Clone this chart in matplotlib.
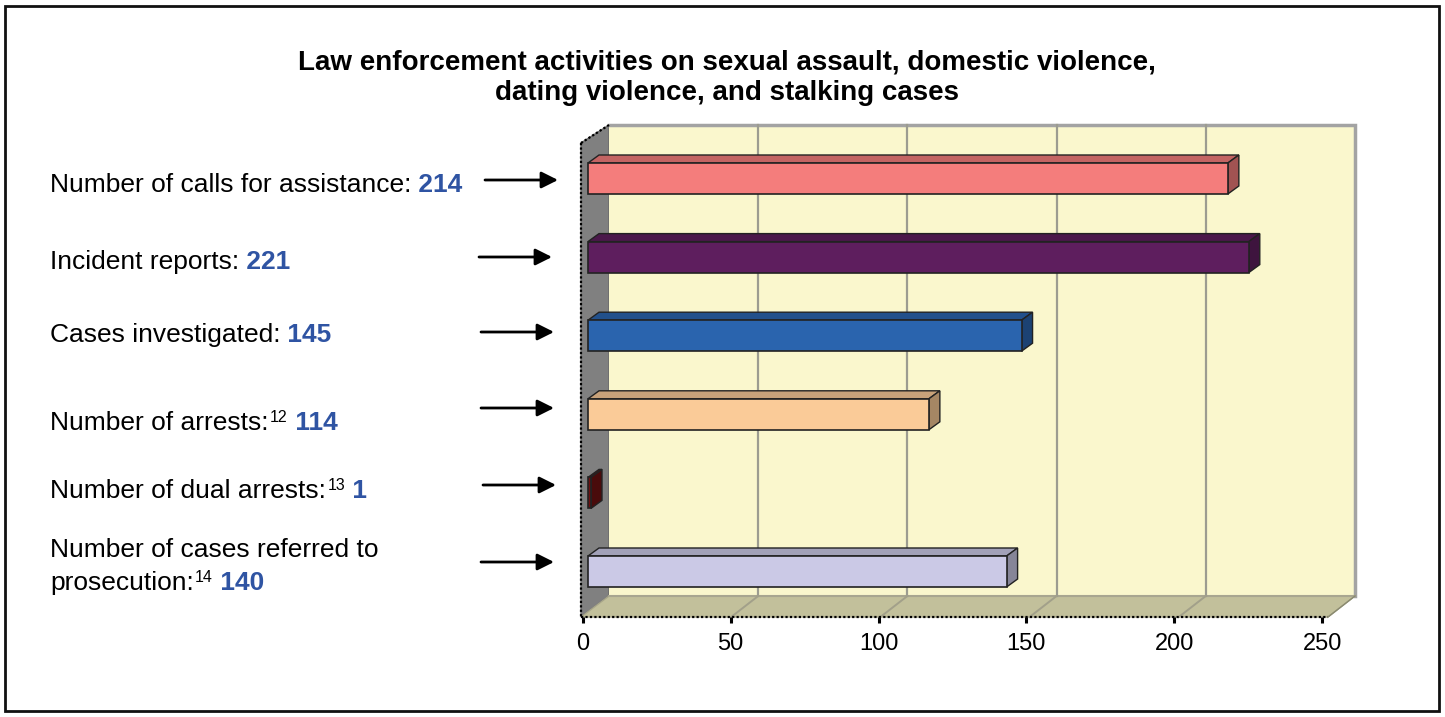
import matplotlib
matplotlib.use("Agg")
import matplotlib.pyplot as plt
from matplotlib.patches import Polygon, Rectangle
import numpy as np

# ---------------- data ----------------
categories = ["Number of calls for assistance", "Incident reports", "Cases investigated",
              "Number of arrests", "Number of dual arrests",
              "Number of cases referred to prosecution"]
values = [214, 221, 145, 114, 1, 140]
footnotes = ["", "", "", "12", "13", "14"]
ticks = [0, 50, 100, 150, 200, 250]
title_lines = ["Law enforcement activities on sexual assault, domestic violence,",
               "dating violence, and stalking cases"]

# ---------------- style / layout ----------------
face_colors = ["#F47D7C", "#5E1E5E", "#2A64AE", "#FACB98", "#6E1010", "#CBC9E6"]
num_color = "#2F54A3"
W, H = 1445, 717
plt.rcParams["font.family"] = ["Liberation Sans", "DejaVu Sans"]

fig = plt.figure(figsize=(W / 100, H / 100), dpi=100)
ax = fig.add_axes([0, 0, 1, 1])
ax.axis("off")

# bar plane: value 0 at px 588, 2.99 px per unit; rows every 78.6 px starting 178.5
X0, SX = 588.0, 2.99
Y0, SY = 178.5, 78.6
ax.set_xlim(-X0 / SX, (W - X0) / SX)
ax.set_ylim((H - Y0) / SY, -Y0 / SY)


def X(px):
    return (px - X0) / SX


def Y(py):
    return (py - Y0) / SY


def DX(px):
    return px / SX


def DY(py):
    return py / SY


def back_px(v):
    return 609 + v * 2.984


def front_px(v):
    return 582.7 + v * 2.958


WALL_TOP, FLOOR_BACK, FLOOR_FRONT = 125, 596, 617
DEPTH_X, DEPTH_Y = 27, 21

# left wall
ax.add_patch(Polygon([(X(581), Y(143)), (X(609), Y(WALL_TOP)), (X(609), Y(FLOOR_BACK)),
                      (X(581), Y(FLOOR_FRONT))], closed=True, facecolor="#808080",
                     edgecolor="#6a6a6a", lw=1, zorder=1))
# back wall
ax.add_patch(Polygon([(X(609), Y(WALL_TOP)), (X(back_px(250)), Y(WALL_TOP)),
                      (X(back_px(250)), Y(FLOOR_BACK)), (X(609), Y(FLOOR_BACK))],
                     closed=True, facecolor="#FAF7CD", edgecolor="none", zorder=1))
ax.plot([X(609), X(back_px(250)), X(back_px(250))],
        [Y(WALL_TOP), Y(WALL_TOP), Y(FLOOR_BACK)], color="#a3a3a3", lw=2.5, zorder=2,
        solid_joinstyle="miter")
# floor
ax.add_patch(Polygon([(X(581), Y(FLOOR_FRONT)), (X(609), Y(FLOOR_BACK)),
                      (X(back_px(250)), Y(FLOOR_BACK)),
                      (X(back_px(250) - DEPTH_X), Y(FLOOR_FRONT))],
                     closed=True, facecolor="#C2C09B", edgecolor="#a8a68a", lw=1, zorder=1))
ax.plot([X(609), X(back_px(250))], [Y(FLOOR_BACK), Y(FLOOR_BACK)], color="#a8a690",
        lw=1.5, zorder=2)

# gridlines on back wall + floor diagonals
for t in ticks[1:-1]:
    bx = back_px(t)
    ax.plot([X(bx), X(bx)], [Y(WALL_TOP), Y(FLOOR_BACK)], color="#9c9c90", lw=1.6, zorder=2)
    ax.plot([X(bx), X(bx - DEPTH_X)], [Y(FLOOR_BACK), Y(FLOOR_FRONT)], color="#a2a08a",
            lw=1.4, zorder=2)

# axis lines (dotted look)
ax.plot([X(581), X(581)], [Y(143), Y(FLOOR_FRONT)], color="black", lw=1.6,
        ls=(0, (1, 1)), zorder=3)
ax.plot([X(581), X(609)], [Y(143), Y(WALL_TOP)], color="black", lw=1.6,
        ls=(0, (1, 1)), zorder=3)
ax.plot([X(581), X(back_px(250) - DEPTH_X)], [Y(FLOOR_FRONT), Y(FLOOR_FRONT)],
        color="black", lw=1.6, ls=(0, (1, 1)), zorder=3)
ax.plot([X(back_px(250) - DEPTH_X), X(back_px(250))], [Y(FLOOR_FRONT), Y(FLOOR_BACK)],
        color="#8a8a70", lw=1, zorder=3)

# ticks and tick labels
for t in ticks:
    fx = front_px(t)
    ax.plot([X(fx), X(fx)], [Y(FLOOR_FRONT), Y(FLOOR_FRONT + 6)], color="black", lw=2.2,
            zorder=3, solid_capstyle="butt")
    ax.text(X(fx), Y(643.5), str(t), ha="center", va="center", fontsize=17, zorder=3)


# bars (3D look)
def shade(c, f):
    r, g, b = matplotlib.colors.to_rgb(c)
    return (r * f, g * f, b * f)


BAR_HALF, BDX, BDY = 15.5, 11, 8
for i, (v, c) in enumerate(zip(values, face_colors)):
    y0, y1 = i - DY(BAR_HALF), i + DY(BAR_HALF)
    ddx, ddy = DX(BDX), DY(BDY)
    ax.add_patch(Polygon([(0, y0), (v, y0), (v + ddx, y0 - ddy), (ddx, y0 - ddy)],
                         closed=True, facecolor=shade(c, 0.8), edgecolor="#222222",
                         lw=1, zorder=4, joinstyle="miter"))
    ax.add_patch(Polygon([(v, y0), (v + ddx, y0 - ddy), (v + ddx, y1 - ddy), (v, y1)],
                         closed=True, facecolor=shade(c, 0.66), edgecolor="#222222",
                         lw=1, zorder=4, joinstyle="miter"))
    ax.add_patch(Rectangle((0, y0), v, y1 - y0, facecolor=c, edgecolor="#222222",
                           lw=1.2, zorder=5, joinstyle="miter"))

# arrows
arrow_y = [180, 257, 332, 408, 485, 562]
arrow_x0 = [485, 479, 481, 481, 483, 481]
for ay, ax0 in zip(arrow_y, arrow_x0):
    ax.annotate("", xy=(X(ax0 + 73), Y(ay)), xytext=(X(ax0), Y(ay)),
                arrowprops=dict(arrowstyle="-|>", lw=2, color="black", mutation_scale=25,
                                shrinkA=0, shrinkB=0),
                annotation_clip=False)

# left-side labels: regular text + superscript footnote + bold blue value
label_text = ["Number of calls for assistance:", "Incident reports:", "Cases investigated:",
              "Number of arrests:", "Number of dual arrests:",
              "Number of cases referred to\nprosecution:"]
label_baseline = [192, 269, 342, 430, 498, 557]
LINE_H = 33
for txt, base, fn, v in zip(label_text, label_baseline, footnotes, values):
    lines = txt.split("\n")
    for k, ln in enumerate(lines[:-1]):
        fig.text(50 / W, 1 - (base + k * LINE_H) / H, ln, fontsize=19, va="baseline",
                 ha="left")
    lb = base + (len(lines) - 1) * LINE_H
    t1 = fig.text(50 / W, 1 - lb / H, lines[-1], fontsize=19, va="baseline", ha="left")
    prev = t1
    if fn:
        prev = ax.annotate(fn, xy=(1, H - lb + 8), xycoords=(t1, "figure pixels"),
                           xytext=(1.5, 0), textcoords="offset pixels",
                           fontsize=11.5, va="baseline", ha="left")
    ax.annotate(" " + str(v), xy=(1, H - lb), xycoords=(prev, "figure pixels"),
                fontsize=19, va="baseline", ha="left", fontweight="bold", color=num_color)

# title
for k, ln in enumerate(title_lines):
    fig.text(727 / W, 1 - (69 + k * 31) / H, ln, ha="center", va="baseline",
             fontsize=20, fontweight="bold")

# outer frame
fig.add_artist(Rectangle((5 / W, 6 / H), 1434 / W, 705 / H, transform=fig.transFigure,
                         fill=False, edgecolor="#111111", lw=2))

fig.savefig("out.png", dpi=100)
